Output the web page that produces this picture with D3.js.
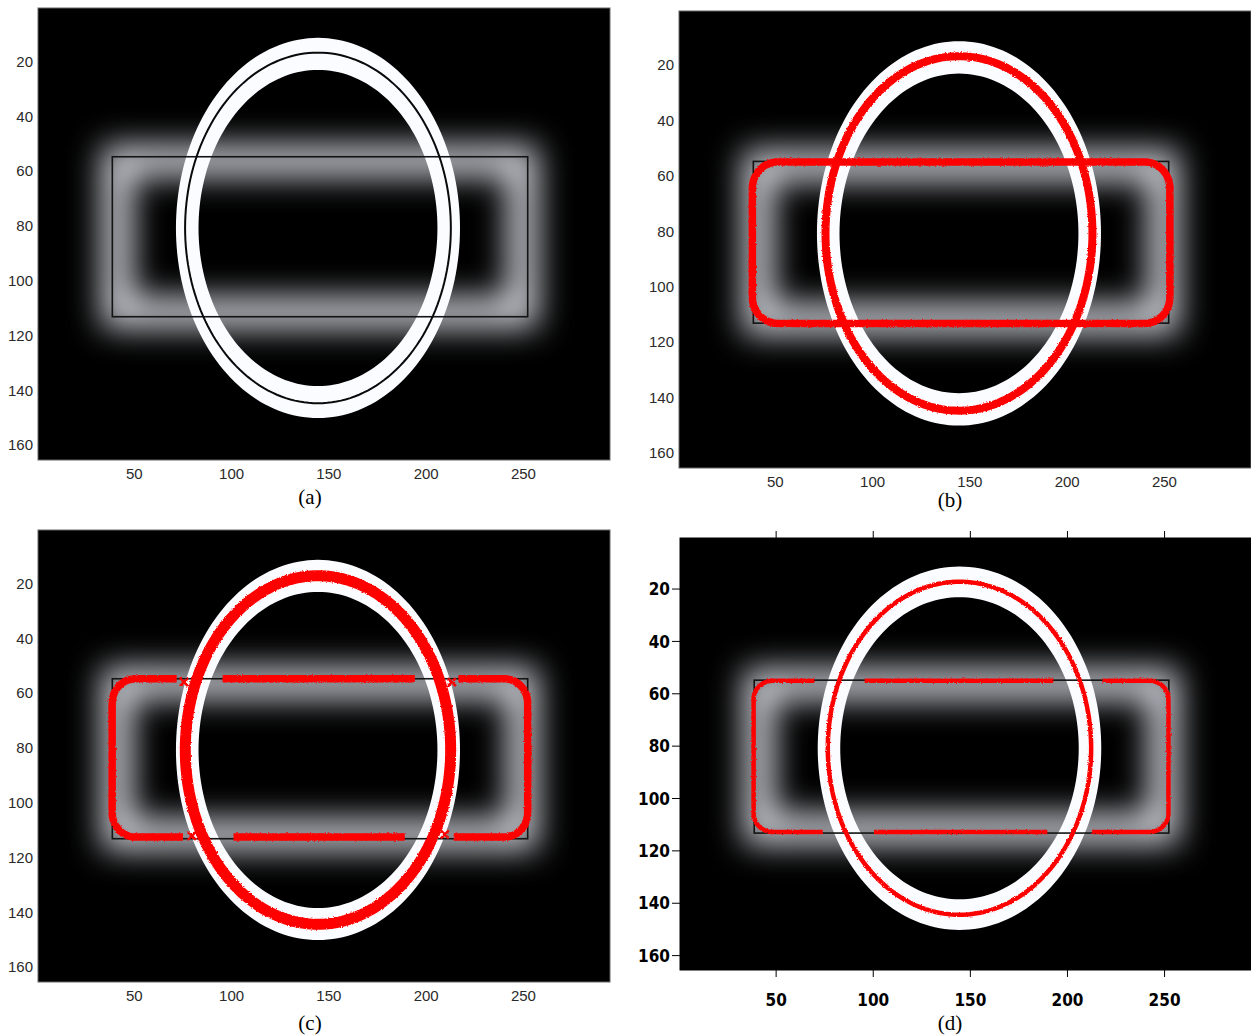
<!DOCTYPE html>
<html lang="en">
<head>
    <meta charset="UTF-8">
    <title>Contour panels</title>
    <script src="https://cdn.jsdelivr.net/npm/d3@7/dist/d3.min.js"></script>
    <style>
        body { margin: 0; background: #fff; }
    </style>
</head>
<body>
<script type="application/javascript">
    const W = 1251, H = 1036;

    // axis ticks
    const xTicks = [50, 100, 150, 200, 250];
    const yTicks = [20, 40, 60, 80, 100, 120, 140, 160];
    const xDomain = [0.5, 294.5];
    const yDomain = [0.5, 165.5];

    // image content (data units)
    const ringCenter = [144.4, 80.8];
    const ringOuter = [73, 69.4];
    const ringInner = [61.4, 57.7];
    const box = [38.7, 252.2, 54.8, 113.2];       // x0, x1, y0, y1
    const contourA = [68.3, 64];                   // black contour of (a)

    // panels: left, right, top, bottom in px
    const panelNames = ['(a)', '(b)', '(c)', '(d)'];
    const panelBoxes = [[38, 610, 8, 460], [679, 1251, 11, 468], [38, 610, 530, 982], [680, 1251, 538, 970]];
    const captionPos = [[310, 504], [950, 507], [310, 1030], [950, 1030]];

    // red result curves per panel
    const redEllipse = [null, [68.6, 64.0], [68.2, 63.6], [67.8, 63.6]];
    const redWidth = [0, 8, 11, 4.5];
    const redBox = [null, [38.2, 252.8, 55.0, 113.3], [38.6, 252.2, 54.8, 112.6], [38.4, 252.0, 55.0, 112.8]];
    const redCorner = [null, [13, 9.5], [12, 9], [10, 7]];
    const topGaps = [[], [], [[72, 95.2], [194.5, 216.6]], [[70, 95.6], [193.2, 217.9]]];
    const bottomGaps = [[], [], [[75, 100.9], [189.3, 214]], [[74, 100.2], [189.6, 212.7]]];
    const crossMarks = [[], [], [[75.5, 56], [213.2, 56], [79.6, 112.2], [209.6, 111.6]], []];

    const svg = d3.select('body')
        .append('svg')
        .attr('width', W)
        .attr('height', H);

    const defs = svg.append('defs');

    // soft edge filter for the rectangle band
    defs.append('filter')
        .attr('id', 'glow')
        .attr('filterUnits', 'userSpaceOnUse')
        .attr('x', 0).attr('y', 0).attr('width', W).attr('height', H)
        .append('feGaussianBlur')
        .attr('stdDeviation', 16);

    defs.append('filter')
        .attr('id', 'soft')
        .attr('filterUnits', 'userSpaceOnUse')
        .attr('x', 0).attr('y', 0).attr('width', W).attr('height', H)
        .append('feGaussianBlur')
        .attr('stdDeviation', 0.7);

    // rough edges for the red marker trails
    const rough = defs.append('filter')
        .attr('id', 'rough')
        .attr('filterUnits', 'userSpaceOnUse')
        .attr('x', 0).attr('y', 0).attr('width', W).attr('height', H);
    rough.append('feTurbulence')
        .attr('type', 'fractalNoise')
        .attr('baseFrequency', 0.8)
        .attr('numOctaves', 1)
        .attr('result', 'noise');
    rough.append('feDisplacementMap')
        .attr('in', 'SourceGraphic')
        .attr('in2', 'noise')
        .attr('scale', 3)
        .attr('xChannelSelector', 'R')
        .attr('yChannelSelector', 'G');

    function ellipsePoints(c, r, n) {
        return d3.range(n).map(i => {
            const t = i / n * 2 * Math.PI;
            return [c[0] + r[0] * Math.cos(t), c[1] + r[1] * Math.sin(t)];
        });
    }

    // rounded rectangle perimeter sampled in data units, tagged with edge name
    function roundedRect(b, cr) {
        const [x0, x1, y0, y1] = b, [rx, ry] = cr, pts = [];
        const step = 0.4;
        for (let x = x0 + rx; x <= x1 - rx; x += step) pts.push([x, y0, 'top']);
        for (let t = -90; t <= 0; t += 5) pts.push([x1 - rx + rx * Math.cos(t * Math.PI / 180), y0 + ry + ry * Math.sin(t * Math.PI / 180), 'c']);
        for (let y = y0 + ry; y <= y1 - ry; y += step) pts.push([x1, y, 'side']);
        for (let t = 0; t <= 90; t += 5) pts.push([x1 - rx + rx * Math.cos(t * Math.PI / 180), y1 - ry + ry * Math.sin(t * Math.PI / 180), 'c']);
        for (let x = x1 - rx; x >= x0 + rx; x -= step) pts.push([x, y1, 'bottom']);
        for (let t = 90; t <= 180; t += 5) pts.push([x0 + rx + rx * Math.cos(t * Math.PI / 180), y1 - ry + ry * Math.sin(t * Math.PI / 180), 'c']);
        for (let y = y1 - ry; y >= y0 + ry; y -= step) pts.push([x0, y, 'side']);
        for (let t = 180; t <= 270; t += 5) pts.push([x0 + rx + rx * Math.cos(t * Math.PI / 180), y0 + ry + ry * Math.sin(t * Math.PI / 180), 'c']);
        pts.push(pts[0]);
        return pts;
    }

    panelBoxes.forEach((pb, k) => {
        const [L, R, T, B] = pb;
        const xScale = d3.scaleLinear().domain(xDomain).range([L, R]);
        const yScale = d3.scaleLinear().domain(yDomain).range([T, B]);
        const g = svg.append('g');

        defs.append('clipPath')
            .attr('id', 'clip' + k)
            .append('rect')
            .attr('x', L).attr('y', T)
            .attr('width', R - L).attr('height', B - T);

        const img = g.append('g').attr('clip-path', 'url(#clip' + k + ')');

        img.append('rect')
            .attr('x', L).attr('y', T)
            .attr('width', R - L).attr('height', B - T)
            .attr('fill', '#000');

        // blurred band along the rectangle edge
        img.append('rect')
            .attr('x', xScale(box[0]) + 5)
            .attr('y', yScale(box[2]) + 4)
            .attr('width', xScale(box[1]) - xScale(box[0]) - 10)
            .attr('height', yScale(box[3]) - yScale(box[2]) - 8)
            .attr('fill', 'none')
            .attr('stroke', '#d0d4dc')
            .attr('stroke-width', 30)
            .attr('filter', 'url(#glow)');

        // white ring
        const line = d3.line().x(d => xScale(d[0])).y(d => yScale(d[1])).curve(d3.curveLinearClosed);
        img.append('path')
            .attr('d', line(ellipsePoints(ringCenter, ringOuter, 180)) + line(ellipsePoints(ringCenter, ringInner, 180)))
            .attr('fill', '#fbfcff')
            .attr('fill-rule', 'evenodd')
            .attr('filter', 'url(#soft)');

        // initial rectangle
        img.append('rect')
            .attr('x', xScale(box[0]))
            .attr('y', yScale(box[2]))
            .attr('width', xScale(box[1]) - xScale(box[0]))
            .attr('height', yScale(box[3]) - yScale(box[2]))
            .attr('fill', 'none')
            .attr('stroke', '#141414')
            .attr('stroke-width', 1.6);

        if (k === 0) {
            img.append('path')
                .attr('d', line(ellipsePoints(ringCenter, contourA, 180)))
                .attr('fill', 'none')
                .attr('stroke', '#0a0a0a')
                .attr('stroke-width', 2);
        } else {
            const red = img.append('g').attr('filter', 'url(#rough)');
            red.append('path')
                .attr('d', line(ellipsePoints(ringCenter, redEllipse[k], 240)))
                .attr('fill', 'none')
                .attr('stroke', '#ff0000')
                .attr('stroke-width', redWidth[k]);

            const inGap = d => {
                const gaps = d[2] === 'top' ? topGaps[k] : d[2] === 'bottom' ? bottomGaps[k] : [];
                return gaps.some(gp => d[0] > gp[0] && d[0] < gp[1]);
            };
            const open = d3.line()
                .defined(d => !inGap(d))
                .x(d => xScale(d[0]))
                .y(d => yScale(d[1]));
            red.append('path')
                .attr('d', open(roundedRect(redBox[k], redCorner[k])))
                .attr('fill', 'none')
                .attr('stroke', '#ff0000')
                .attr('stroke-width', k === 3 ? 4.5 : 7.5)
                .attr('stroke-linejoin', 'round');

            red.selectAll('path.cross')
                .data(crossMarks[k])
                .enter()
                .append('path')
                .attr('class', 'cross')
                .attr('d', d => {
                    const cx = xScale(d[0]), cy = yScale(d[1]);
                    return `M${cx - 4},${cy - 4}L${cx + 4},${cy + 4}M${cx - 4},${cy + 4}L${cx + 4},${cy - 4}`;
                })
                .attr('stroke', '#ff0000')
                .attr('stroke-width', 2.5);
        }

        // frame
        g.append('rect')
            .attr('x', L).attr('y', T)
            .attr('width', R - L).attr('height', B - T)
            .attr('fill', 'none')
            .attr('stroke', k === 3 ? '#000' : '#666')
            .attr('stroke-width', 1);

        const bold = k === 3;
        const font = bold ? '"DejaVu Sans Condensed", "Liberation Sans Narrow", sans-serif' : '"Liberation Sans", Arial, sans-serif';
        const fsize = bold ? '17px' : '15px';

        if (bold) {
            g.selectAll('line.xt')
                .data(xTicks)
                .enter()
                .append('line')
                .attr('x1', d => xScale(d)).attr('x2', d => xScale(d))
                .attr('y1', B).attr('y2', B + 7)
                .attr('stroke', '#000');
            g.selectAll('line.xtt')
                .data(xTicks)
                .enter()
                .append('line')
                .attr('x1', d => xScale(d)).attr('x2', d => xScale(d))
                .attr('y1', T).attr('y2', T - 7)
                .attr('stroke', '#000');
            g.selectAll('line.yt')
                .data(yTicks)
                .enter()
                .append('line')
                .attr('x1', L).attr('x2', L - 8)
                .attr('y1', d => yScale(d)).attr('y2', d => yScale(d))
                .attr('stroke', '#000');
        }

        g.selectAll('text.xl')
            .data(xTicks)
            .enter()
            .append('text')
            .attr('x', d => xScale(d))
            .attr('y', B + (bold ? 36 : 19))
            .attr('text-anchor', 'middle')
            .attr('font-family', font)
            .attr('font-size', fsize)
            .attr('font-weight', bold ? 'bold' : 'normal')
            .attr('fill', bold ? '#000' : '#2a2a2a')
            .text(d => d);

        g.selectAll('text.yl')
            .data(yTicks)
            .enter()
            .append('text')
            .attr('x', L - (bold ? 10 : 5))
            .attr('y', d => yScale(d))
            .attr('dy', '0.36em')
            .attr('text-anchor', 'end')
            .attr('font-family', font)
            .attr('font-size', fsize)
            .attr('font-weight', bold ? 'bold' : 'normal')
            .attr('fill', bold ? '#000' : '#2a2a2a')
            .text(d => d);

        svg.append('text')
            .attr('x', captionPos[k][0])
            .attr('y', captionPos[k][1])
            .attr('text-anchor', 'middle')
            .attr('font-family', '"Liberation Serif", "Times New Roman", serif')
            .attr('font-size', '21px')
            .attr('fill', '#000')
            .text(panelNames[k]);
    });
</script>
</body>
</html>
